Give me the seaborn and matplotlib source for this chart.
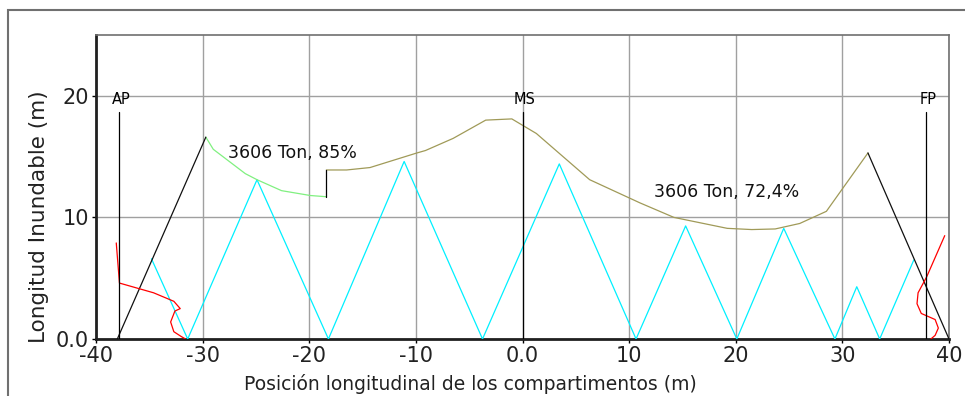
import matplotlib
matplotlib.use("Agg")
import matplotlib.pyplot as plt
import seaborn as sns
import pandas as pd
from matplotlib.patches import Rectangle

# ---- data ----
ap_x, ms_x, fp_x = -37.8, 0.0, 37.8
perp_top = 18.7

left_black_x = [-38.0, -29.7]
left_black_y = [0.0, 16.6]

green_x = [-29.7, -29.0, -26.0, -24.9, -22.6, -19.9, -18.4]
green_y = [16.6, 15.6, 13.6, 13.1, 12.2, 11.8, 11.7]

step_x = [-18.4, -18.4]
step_y = [11.7, 13.9]

olive_x = [-18.4, -16.5, -14.3, -9.9, -9.1, -6.5, -3.45, -1.0, 1.3, 6.3,
           11.0, 14.2, 19.2, 21.5, 23.7, 26.0, 28.5, 32.4]
olive_y = [13.9, 13.9, 14.1, 15.3, 15.5, 16.5, 18.0, 18.1, 16.9, 13.1,
           11.2, 10.0, 9.1, 9.0, 9.05, 9.5, 10.5, 15.3]

right_black_x = [32.4, 40.0]
right_black_y = [15.3, 0.0]

cyan_x = [-34.8, -31.4, -24.9, -18.2, -11.1, -3.75, 3.45, 10.65, 15.3,
          20.1, 24.5, 29.3, 31.35, 33.5, 36.7]
cyan_y = [6.6, 0.0, 13.1, 0.0, 14.6, 0.0, 14.4, 0.0, 9.3,
          0.0, 9.1, 0.0, 4.3, 0.0, 6.5]

red_left_x = [-38.1, -37.8, -34.6, -32.7, -32.1, -32.6, -33.0, -32.7, -32.0, -31.6]
red_left_y = [7.9, 4.6, 3.8, 3.1, 2.5, 2.3, 1.4, 0.6, 0.2, 0.0]

red_right_x = [39.6, 37.9, 37.1, 37.0, 37.4, 38.7, 39.0, 38.7, 38.3]
red_right_y = [8.5, 5.1, 3.8, 2.9, 2.1, 1.6, 0.9, 0.3, 0.0]

x_ticks = [-40, -30, -20, -10, 0, 10, 20, 30, 40]
x_tick_labels = ["-40", "-30", "-20", "-10", "0.0", "10", "20", "30", "40"]
y_ticks = [0, 10, 20]
y_tick_labels = ["0.0", "10", "20"]

label_85 = "3606 Ton, 85%"
label_72 = "3606 Ton, 72,4%"
x_label = "Posición longitudinal de los compartimentos (m)"
y_label = "Longitud Inundable (m)"

# ---- plotting ----
sns.set_theme(style="white")
plt.rcParams['font.family'] = ['DejaVu Sans']

fig = plt.figure(figsize=(9.65, 3.96), dpi=100)
ax = fig.add_axes([96/965, 1 - 339/396, (949 - 96)/965, (339 - 35)/396])

def line(xs, ys, color, lw=0.9, z=3):
    df = pd.DataFrame({"x": xs, "y": ys})
    sns.lineplot(data=df, x="x", y="y", ax=ax, color=color, linewidth=lw,
                 sort=False, estimator=None, zorder=z)

line(cyan_x, cyan_y, "#00f0ff")
line(green_x, green_y, "#80f080")
line(olive_x, olive_y, "#a09a58")
line(step_x, step_y, "black")
line(left_black_x, left_black_y, "#101010")
line(right_black_x, right_black_y, "#101010")
line(red_left_x, red_left_y, "#ff0000")
line(red_right_x, red_right_y, "#ff0000")

for px, name in [(ap_x, "AP"), (ms_x, "MS"), (fp_x, "FP")]:
    line([px, px], [0, perp_top], "black")
    ax.text(px + 0.2, perp_top + 0.35, name, ha="center", va="bottom",
            fontsize=10.5, color="black")

ax.text(-27.6, 15.3, label_85, fontsize=12.5, va="center", ha="left", color="#111111")
ax.text(12.35, 12.1, label_72, fontsize=12.5, va="center", ha="left", color="#111111")

ax.set_xlim(-40, 40)
ax.set_ylim(0, 25)
ax.set_xticks(x_ticks)
ax.set_xticklabels(x_tick_labels, fontsize=15)
ax.set_yticks(y_ticks)
ax.set_yticklabels(y_tick_labels, fontsize=15)
ax.grid(True, color="#a0a0a0", linewidth=1.0)
ax.set_axisbelow(True)
ax.tick_params(axis="both", length=3, width=1, color="black", pad=2,
               labelcolor="#222222", direction="out")
ax.xaxis.set_ticks_position("bottom")
ax.yaxis.set_ticks_position("left")

for side in ["top", "right"]:
    ax.spines[side].set_color("#707070")
    ax.spines[side].set_linewidth(1.2)
for side in ["left", "bottom"]:
    ax.spines[side].set_color("#202020")
    ax.spines[side].set_linewidth(2.0)

ax.set_xlabel(x_label, fontsize=13.5, color="#222222", labelpad=1)
ax.xaxis.set_label_coords((470 - 96) / (949 - 96), -0.115)
ax.set_ylabel(y_label, fontsize=15.5, color="#222222", labelpad=4)
ax.yaxis.set_label_coords(-0.055, (339 - 217) / (339 - 35))

# outer drawing frame
fig.patches.append(Rectangle((8/965, -0.1), 1.0, 1 - 10/396 + 0.1,
                             transform=fig.transFigure, fill=False,
                             edgecolor="#707070", linewidth=1.5))

fig.savefig("out.png", dpi=100)
